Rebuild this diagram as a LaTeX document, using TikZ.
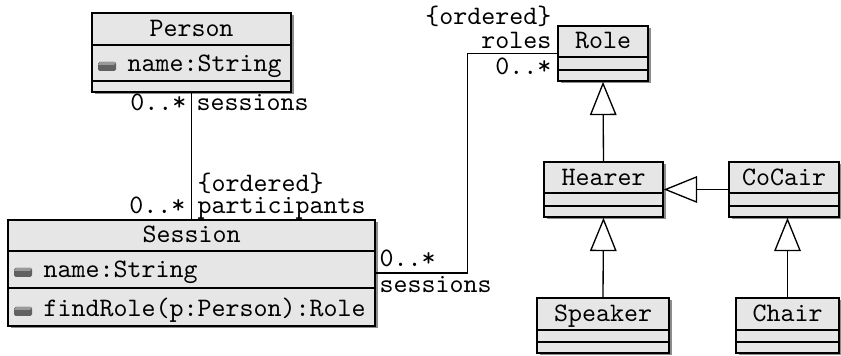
\documentclass[tikz,border=0pt]{standalone}
\usepackage{fontspec}
\usetikzlibrary{arrows.meta,fit}

% one unit = 0.375pt, y grows downwards
\tikzset{
  x=0.375pt, y=-0.375pt,
  classbox/.style={draw=black, line width=0.6pt, fill=boxfill, inner sep=0pt},
  boxshadow/.style={fill=black!45},
  divider/.style={draw=black, line width=0.6pt},
  classtitle/.style={anchor=base, inner sep=0pt, font=\ttfamily},
  member/.style={anchor=base west, inner sep=0pt, font=\ttfamily},
  rolelabel/.style={inner sep=0pt, font=\ttfamily},
  assoc/.style={draw=black, line width=0.5pt},
  generalization/.style={draw=black, line width=0.5pt,
    -{Triangle[open, length=12.5pt, width=10pt, line width=0.5pt]}},
}
\definecolor{boxfill}{HTML}{E6E6E6}

% name, left, top, right, bottom, divider 1, divider 2, title, title baseline
\newcommand\umlclass[9]{%
  \fill[boxshadow] ({#2+2.5},{#3+2.5}) rectangle ({#4+2.5},{#5+2.5});
  \path (#2,#3) coordinate (#1-nw) (#4,#5) coordinate (#1-se);
  \node[classbox, fit=(#1-nw)(#1-se)] (#1) {};
  \draw[divider] (#2,#6) -- (#4,#6);
  \draw[divider] (#2,#7) -- (#4,#7);
  \node[classtitle] at ({(#2+#4)/2},#9) {#8};
}

% box left edge, baseline, text
\newcommand\umlmember[3]{%
  \fill[black!62, rounded corners=0.6pt] ({#1+6},{#2-10}) rectangle ({#1+24},{#2-1});
  \fill[black!40] ({#1+8},{#2-10}) -- ({#1+24},{#2-10}) -- ({#1+22},{#2-7}) -- ({#1+6},{#2-7}) -- cycle;
  \node[member] at ({#1+35},#2) {#3};
}

\begin{document}
\begin{tikzpicture}
  \useasboundingbox (0,0) rectangle (841,356);

  % classes
  \umlclass{person}{92}{13}{291}{92}{45}{81}{Person}{37}
  \umlmember{92}{72}{name:String}

  \umlclass{session}{8}{220}{375}{326}{251}{288}{Session}{243}
  \umlmember{8}{278}{name:String}
  \umlmember{8}{317}{findRole(p:Person):Role}

  \umlclass{role}{558}{26}{648}{81}{57}{70}{Role}{49}
  \umlclass{hearer}{544}{162}{663}{217}{193}{206}{Hearer}{186}
  \umlclass{cocair}{729}{162}{839}{217}{193}{206}{CoCair}{186}
  \umlclass{speaker}{537}{298}{669}{353}{330}{342}{Speaker}{322}
  \umlclass{chair}{736}{298}{839}{353}{330}{342}{Chair}{322}

  % associations
  \draw[assoc] (person.south) -- (session.north);
  \draw[assoc] (session.east) -- ++(92,0) |- (role.west);

  % generalizations
  \draw[generalization] (hearer.north) -- (role.south);
  \draw[generalization] (cocair.west) -- (hearer.east);
  \draw[generalization] (speaker.north) -- (hearer.south);
  \draw[generalization] (chair.north) -- (chair.north |- cocair.south);

  % association end labels
  \node[rolelabel, anchor=base east] (pm) at (187,111) {0..*};
  \node[rolelabel, anchor=base west] (pr) at (196,111) {sessions};
  \node[rolelabel, anchor=base west] (so) at (197,192) {\{ordered\}};
  \node[rolelabel, anchor=base west] (sr) at (197,214) {participants};
  \node[rolelabel, anchor=base east] (sm) at (186,214) {0..*};
  \node[rolelabel, anchor=base west] (rm) at (379,267) {0..*};
  \node[rolelabel, anchor=base west] (rr) at (379,293) {sessions};
  \node[rolelabel, anchor=base east] (ro) at (552,25) {\{ordered\}};
  \node[rolelabel, anchor=base east] (rl) at (552,49) {roles};
  \node[rolelabel, anchor=base east] (rn) at (552,75) {0..*};
\end{tikzpicture}
\end{document}
